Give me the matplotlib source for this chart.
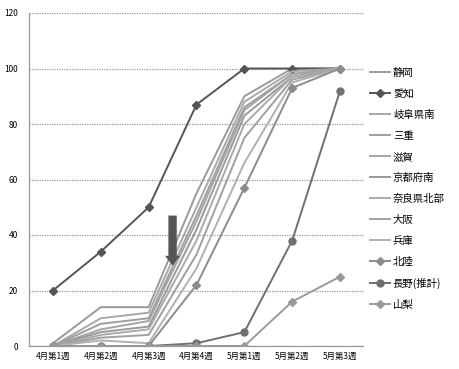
import numpy as np
import matplotlib.pyplot as plt

plt.rcParams['font.family'] = ['Noto Sans CJK JP', 'DejaVu Sans']

weeks = ["4月第1週", "4月第2週", "4月第3週", "4月第4週", "5月第1週", "5月第2週", "5月第3週"]
regions = ["静岡", "愛知", "岐阜県南", "三重", "滋賀", "京都府南", "奈良県北部",
           "大阪", "兵庫", "北陸", "長野(推計)", "山梨"]

shizuoka = [1, 14, 14, 55, 90, 100, 100]
aichi = [20, 34, 50, 87, 100, 100, 100]
gifu = [0, 10, 12, 50, 88, 99, 100]
mie = [0, 8, 10, 47, 86, 98, 100]
shiga = [0, 6, 9, 45, 85, 98, 100]
kyoto = [0, 5, 7, 42, 83, 97, 100]
nara_n = [0, 4, 6, 38, 80, 97, 100]
osaka = [0, 3, 4, 33, 75, 96, 100]
hyogo = [0, 2, 1, 28, 66, 95, 100]
hokuriku = [0, 0, 0, 22, 57, 93, 100]
nagano = [0, 0, 0, 1, 5, 38, 92]
yamanashi = [0, 0, 0, 0, 0, 16, 25]

series = [shizuoka, aichi, gifu, mie, shiga, kyoto, nara_n, osaka, hyogo, hokuriku, nagano, yamanashi]
styles = [
    dict(color='#9a9a9a', marker=None, ms=0),
    dict(color='#555555', marker='D', ms=4),
    dict(color='#a8a8a8', marker=None, ms=0),
    dict(color='#9e9e9e', marker=None, ms=0),
    dict(color='#a4a4a4', marker=None, ms=0),
    dict(color='#999999', marker=None, ms=0),
    dict(color='#aaaaaa', marker=None, ms=0),
    dict(color='#a0a0a0', marker=None, ms=0),
    dict(color='#b0b0b0', marker=None, ms=0),
    dict(color='#8c8c8c', marker='D', ms=4),
    dict(color='#707070', marker='o', ms=5),
    dict(color='#9a9a9a', marker='D', ms=4),
]

fig = plt.figure(figsize=(4.6, 3.69), dpi=100)
ax = fig.add_axes([29 / 460, 1 - 346 / 369, (364 - 29) / 460, (346 - 13) / 369])

x = np.arange(len(weeks))
for vals, st, name in zip(series, styles, regions):
    ax.plot(x, vals, color=st['color'], lw=1.4, marker=st['marker'], ms=st['ms'],
            mec=st['color'], label=name)

ax.set_xlim(-0.5, len(weeks) - 0.5)
ax.set_ylim(0, 120)
ax.set_yticks(np.arange(0, 121, 20))
ax.set_xticks(x)
ax.set_xticklabels(weeks, fontsize=6)
ax.tick_params(axis='y', labelsize=6, length=0, pad=8)
ax.tick_params(axis='x', length=0, pad=4)
ax.grid(axis='y', color='#999999', linestyle=(0, (1, 1)), lw=0.9)
for side in ['top', 'right']:
    ax.spines[side].set_visible(False)
for side in ['left', 'bottom']:
    ax.spines[side].set_color('#999999')
    ax.spines[side].set_linestyle((0, (1, 1)))
    ax.spines[side].set_linewidth(0.9)

# down arrow marking the turning point
ax.annotate('', xy=(2.5, 28), xytext=(2.5, 48),
            arrowprops=dict(arrowstyle='simple,head_width=1.1,head_length=0.7,tail_width=0.6',
                            color='#555555', lw=0))

fig.legend(loc='upper left', bbox_to_anchor=(370 / 460, 1 - 68 / 369),
           frameon=False, fontsize=7.5, handlelength=1.9, handletextpad=0.3,
           labelspacing=1.05, borderaxespad=0, borderpad=0)

fig.savefig('out.png', dpi=100)
